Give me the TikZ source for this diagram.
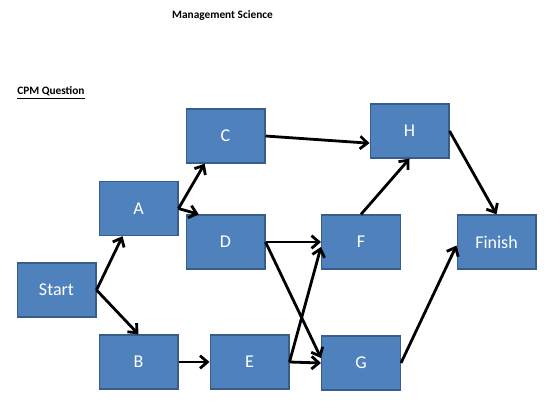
\documentclass[tikz,border=0pt]{standalone}
\usepackage{fontspec}
\setmainfont{Carlito}
\usepackage{xcolor}
\usepackage{tikz}
\usetikzlibrary{arrows.meta}
\definecolor{boxblue}{HTML}{4F81BD}
\definecolor{boxedge}{HTML}{385D8A}

\begin{document}
\begin{tikzpicture}[x=0.75pt, y=-0.75pt]
\useasboundingbox (0,0) rectangle (546,400);

\node[font=\bfseries\fontsize{8.5}{10}\selectfont] (title) at (222.5,15) {Management Science};
\node[anchor=west, inner sep=0pt, font=\bfseries\fontsize{8.5}{10}\selectfont] (question) at (17,93) {\underline{CPM Question}};

\begin{scope}[every node/.style={rectangle, draw=boxedge, fill=boxblue, line width=1pt, minimum width=59pt, minimum height=40.5pt, inner sep=0pt, text=white, font=\fontsize{13.5}{15}\selectfont}]
\node (start) at (56.5,290) {Start};
\node (a) at (138.5,208.5) {A};
\node (b) at (138.5,362) {B};
\node (c) at (225.5,136) {C};
\node (d) at (225.5,242) {D};
\node (e) at (249.5,362) {E};
\node (f) at (361,242) {F};
\node (g) at (361,363) {G};
\node (h) at (409.5,131) {H};
\node (finish) at (496.5,242) {Finish};
\end{scope}

\begin{scope}[line width=2.1pt, line join=round, -{Straight Barb[length=5.5pt,width=9.5pt]}]
\draw (start.east) -- (a.240);
\draw (start.east) -- (b.north);
\draw (a.east) -- (c.233);
\draw (a.east) -- (d.134);
\draw (c.east) -- (h.197);
\draw (d.east) -- (f.west);
\draw (d.east) -- (g.173);
\draw (b.east) -- (e.west);
\draw (e.east) -- (f.187);
\draw (e.east) -- (g.west);
\draw (f.north) -- (h.south);
\draw (h.east) -- (finish.north);
\draw (g.east) -- (finish.185);
\end{scope}

\end{tikzpicture}
\end{document}
